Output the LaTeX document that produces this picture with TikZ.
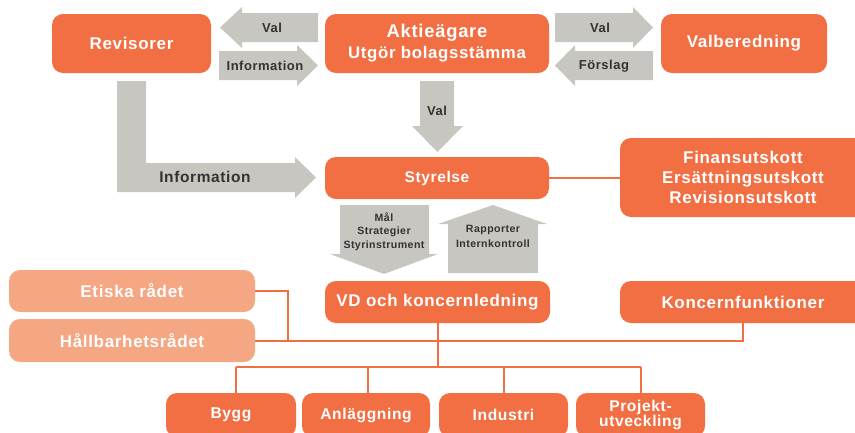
\documentclass[tikz,border=0pt]{standalone}
\usepackage{fontspec}
\setmainfont[LetterSpace=4]{Liberation Sans}
\definecolor{org}{HTML}{F26F43}
\definecolor{lorg}{HTML}{F5A683}
\definecolor{gry}{HTML}{C7C6C1}
\definecolor{txt}{HTML}{333333}
\tikzset{
  box/.style={fill=org, rounded corners=11pt, text=white, align=center, inner sep=0pt,
     font=\bfseries\fontsize{17}{20}\selectfont},
  lbox/.style={box, fill=lorg},
  garrow/.style={fill=gry},
  glabel/.style={text=txt, align=center, inner sep=0pt, font=\bfseries\fontsize{13}{15}\selectfont},
  slabel/.style={text=txt, align=center, inner sep=0pt, font=\bfseries\fontsize{10.6}{13.3}\selectfont},
  conn/.style={draw=org, line width=2pt}
}
\begin{document}
\begin{tikzpicture}[x=1pt,y=-1pt]
\useasboundingbox (0,0) rectangle (855,432);
% boxes
\node[box, minimum width=159, minimum height=59] (rev) at (131.5,43.5) {Revisorer};
\node[box, minimum width=224, minimum height=59] (akt) at (437,43.5) {};
\node[text=white, font=\bfseries\fontsize{18.4}{21}\selectfont, inner sep=0pt] (akt1) at (437,33) {Aktieägare};
\node[text=white, font=\bfseries\fontsize{16.8}{18}\selectfont, inner sep=0pt] (akt2) at (437,54) {Utgör bolagsstämma};
\node[box, minimum width=166, minimum height=59] (val) at (744,43.5) {Valberedning};
\node[box, minimum width=224, minimum height=42, font=\bfseries\fontsize{15.5}{18}\selectfont] (sty) at (437,178) {Styrelse};
\node[box, minimum width=246, minimum height=79, font=\bfseries\fontsize{17}{20}\selectfont] (fin) at (743,177.5) {Finansutskott\\Ersättningsutskott\\Revisionsutskott};
\node[box, minimum width=225, minimum height=42] (vd) at (437.5,302) {VD och koncernledning};
\node[box, minimum width=246, minimum height=42] (kf) at (743,302) {Koncernfunktioner};
\node[lbox, minimum width=246, minimum height=42] (eti) at (132,291) {Etiska rådet};
\node[lbox, minimum width=246, minimum height=43] (hal) at (132,340.5) {Hållbarhetsrådet};
\node[box, minimum width=130, minimum height=44, font=\bfseries\fontsize{15.6}{15}\selectfont] (byg) at (231,415) {Bygg};
\node[box, minimum width=128, minimum height=44, font=\bfseries\fontsize{15.6}{15}\selectfont] (anl) at (366,415) {Anläggning};
\node[box, minimum width=129, minimum height=44, font=\bfseries\fontsize{15.6}{15}\selectfont] (ind) at (503.5,415) {Industri};
\node[box, minimum width=129, minimum height=44, font=\bfseries\fontsize{15.6}{14}\selectfont] (pro) at (640.5,415) {Projekt-\\utveckling};
% gray arrows
\fill[garrow] (318,13) -- (242,13) -- (242,7) -- (220,27.5) -- (242,48) -- (242,42) -- (318,42) -- cycle;
\node[glabel] (lval) at (272,28) {Val};
\fill[garrow] (219,51) -- (297,51) -- (297,45) -- (318,65.5) -- (297,86) -- (297,80) -- (219,80) -- cycle;
\node[glabel] (linfo) at (265,66) {Information};
\fill[garrow] (555,13) -- (633,13) -- (633,7) -- (653,27.5) -- (633,48) -- (633,42) -- (555,42) -- cycle;
\node[glabel] (rval) at (600,28) {Val};
\fill[garrow] (653,51) -- (575,51) -- (575,45) -- (555,65.5) -- (575,86) -- (575,80) -- (653,80) -- cycle;
\node[glabel] (rfor) at (604,66) {Förslag};
\fill[garrow] (420,81) -- (454,81) -- (454,126) -- (463,126) -- (437.5,152) -- (412,126) -- (420,126) -- cycle;
\node[glabel] (dval) at (437,111) {Val};
\fill[garrow] (117,81) -- (146,81) -- (146,163) -- (295,163) -- (295,157) -- (316,177.5) -- (295,198) -- (295,192) -- (117,192) -- cycle;
\node[glabel, font=\bfseries\fontsize{15.5}{17}\selectfont] (binfo) at (205,177) {Information};
\fill[garrow] (340,205) -- (429,205) -- (429,254) -- (438,254) -- (384,274) -- (330,254) -- (340,254) -- cycle;
\node[slabel] (mal) at (384,231.5) {Mål\\Strategier\\Styrinstrument};
\fill[garrow] (448,273) -- (448,224) -- (438,224) -- (493,205) -- (547,224) -- (538,224) -- (538,273) -- cycle;
\node[slabel, font=\bfseries\fontsize{10.6}{15}\selectfont] (rap) at (493,236) {Rapporter\\Internkontroll};
% connectors
\draw[conn] (sty.east) -- (sty.east -| fin.west);
\coordinate (j1) at (288,340.5);
\draw[conn] (eti.east) -| (j1);
\draw[conn] (hal.east) -| (kf.south);
\coordinate (b1) at (236,367);
\coordinate (b2) at (368,367);
\coordinate (b3) at (504,367);
\coordinate (b4) at (641,367);
\draw[conn] (vd.south) -- (vd.south |- b1);
\draw[conn] (b1) -- (b4);
\draw[conn] (b1) -- (b1 |- byg.north);
\draw[conn] (b2) -- (b2 |- anl.north);
\draw[conn] (b3) -- (b3 |- ind.north);
\draw[conn] (b4) -- (b4 |- pro.north);
\end{tikzpicture}
\end{document}
